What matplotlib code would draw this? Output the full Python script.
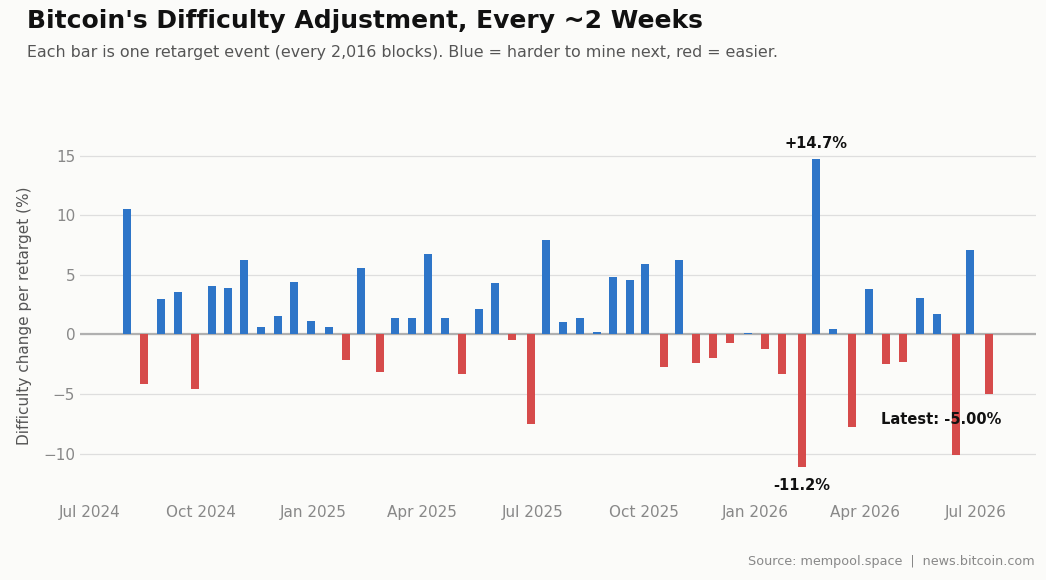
import matplotlib
matplotlib.use("Agg")
import matplotlib.pyplot as plt
import matplotlib.dates as mdates
import pandas as pd

# retarget dates and difficulty change (%) per retarget
dates = [
    "2024-08-01", "2024-08-15", "2024-08-29", "2024-09-12", "2024-09-26",
    "2024-10-10", "2024-10-23", "2024-11-05", "2024-11-19", "2024-12-03",
    "2024-12-16", "2024-12-30", "2025-01-14", "2025-01-28", "2025-02-10",
    "2025-02-25", "2025-03-10", "2025-03-24", "2025-04-06", "2025-04-20",
    "2025-05-04", "2025-05-18", "2025-05-31", "2025-06-14", "2025-06-30",
    "2025-07-12", "2025-07-26", "2025-08-09", "2025-08-23", "2025-09-05",
    "2025-09-19", "2025-10-02", "2025-10-17", "2025-10-30", "2025-11-13",
    "2025-11-27", "2025-12-11", "2025-12-26", "2026-01-09", "2026-01-23",
    "2026-02-08", "2026-02-20", "2026-03-06", "2026-03-21", "2026-04-04",
    "2026-04-18", "2026-05-02", "2026-05-16", "2026-05-30", "2026-06-15",
    "2026-06-27", "2026-07-12",
]
changes = [
    10.50, -4.15, 3.00, 3.59, -4.54,
    4.09, 3.92, 6.28, 0.64, 1.57,
    4.43, 1.15, 0.64, -2.13, 5.61,
    -3.14, 1.40, 1.40, 6.78, 1.40,
    -3.31, 2.16, 4.35, -0.45, -7.51,
    7.96, 1.07, 1.40, 0.22, 4.85,
    4.60, 5.94, -2.72, 6.28, -2.38,
    -1.96, -0.70, 0.10, -1.21, -3.31,
    -11.16, 14.70, 0.48, -7.77, 3.84,
    -2.47, -2.30, 3.08, 1.74, -10.12,
    7.12, -5.00,
]

BLUE = "#2e75c8"
RED = "#d64b4b"
BG = "#fbfbf9"

x = pd.to_datetime(dates)
colors = [BLUE if v >= 0 else RED for v in changes]

fig = plt.figure(figsize=(10.46, 5.8), dpi=100, facecolor=BG)
ax = fig.add_axes([80 / 1046, 1 - 500 / 580, 956 / 1046, 368 / 580])
ax.set_facecolor(BG)

ax.bar(x, changes, width=6.6, color=colors, zorder=3)
ax.axhline(0, color="#b0b0b0", lw=1.6, zorder=2)

ax.set_xlim(pd.Timestamp("2024-06-23"), pd.Timestamp("2026-08-20"))
ax.set_ylim(-13.9, 17)
ax.set_yticks([-10, -5, 0, 5, 10, 15])
ax.yaxis.grid(True, color="#dedede", lw=0.9, zorder=0)
ax.xaxis.set_major_locator(mdates.MonthLocator(bymonth=[1, 4, 7, 10]))
ax.xaxis.set_major_formatter(mdates.DateFormatter("%b %Y"))
ax.tick_params(axis="x", pad=3.5)
ax.tick_params(length=0, labelsize=11, colors="#888888")
for s in ax.spines.values():
    s.set_visible(False)
ax.set_ylabel("Difficulty change per retarget (%)", fontsize=11, color="#555555", labelpad=8)

# annotations
imax = changes.index(max(changes))
imin = changes.index(min(changes))
ax.annotate(f"+{changes[imax]:.1f}%", (x[imax], changes[imax]), xytext=(0, 6),
            textcoords="offset points", ha="center", va="bottom",
            fontsize=10.5, fontweight="bold", color="#111111")
ax.annotate(f"{changes[imin]:.1f}%", (x[imin], changes[imin]), xytext=(0, -8),
            textcoords="offset points", ha="center", va="top",
            fontsize=10.5, fontweight="bold", color="#111111")
ax.annotate(f"Latest: {changes[-1]:.2f}%", (x[-1], changes[-1]), xytext=(-34, -18),
            textcoords="offset points", ha="center", va="center",
            fontsize=10.5, fontweight="bold", color="#111111", zorder=5)

fig.text(27 / 1046, 1 - 21 / 580, "Bitcoin's Difficulty Adjustment, Every ~2 Weeks",
         fontsize=18, fontweight="bold", color="#111111", va="center")
fig.text(27 / 1046, 1 - 52 / 580,
         "Each bar is one retarget event (every 2,016 blocks). Blue = harder to mine next, red = easier.",
         fontsize=11.4, color="#555555", va="center")
fig.text(1035 / 1046, 1 - 561 / 580, "Source: mempool.space  |  news.bitcoin.com",
         fontsize=9.2, color="#888888", ha="right", va="center")

fig.savefig("out.png", dpi=100, facecolor=BG)
